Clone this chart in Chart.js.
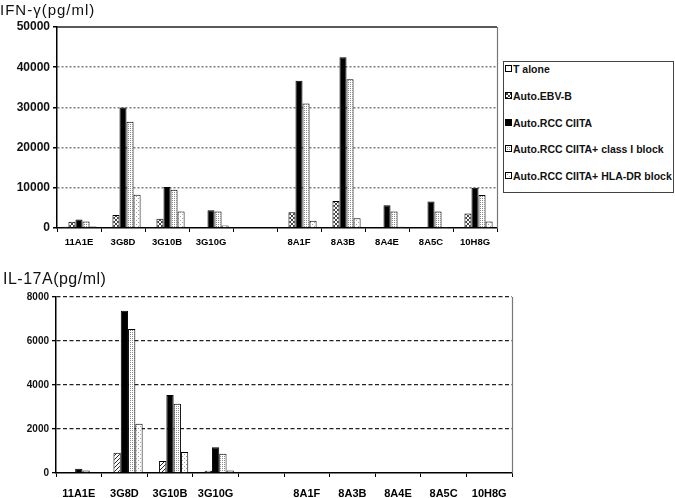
<!DOCTYPE html>
<html>
<head>
<meta charset="utf-8">
<script src="https://cdn.jsdelivr.net/npm/chart.js@4.4.0/dist/chart.umd.min.js"></script>
<style>
html,body{margin:0;padding:0;background:#fff;}
#wrap{position:relative;width:675px;height:498px;overflow:hidden;font-family:"Liberation Sans",Arial,sans-serif;color:#111;}
#c1{position:absolute;left:0;top:0;}
#c2{position:absolute;left:0;top:250px;}
.title{position:absolute;white-space:nowrap;}
#t1{left:0;top:2px;font-size:15px;line-height:15px;letter-spacing:1px;}
#t2{left:3px;top:271px;font-size:16px;line-height:16px;letter-spacing:0.5px;}
#legend{position:absolute;left:503px;top:61px;width:171px;height:132px;border:1px solid #444;box-sizing:border-box;background:#fff;}
.li{position:absolute;left:1px;height:10px;line-height:10px;font-weight:bold;font-size:10.5px;white-space:nowrap;}
.li canvas{position:absolute;left:0;top:1px;}
.li span{position:absolute;left:8px;top:0;}
</style>
</head>
<body>
<div id="wrap">
  <canvas id="c1" width="675" height="250"></canvas>
  <canvas id="c2" width="675" height="248"></canvas>
  <div class="title" id="t1">IFN-γ(pg/ml)</div>
  <div class="title" id="t2">IL-17A(pg/ml)</div>
  <div id="legend"></div>
</div>
<script>
// ---- data ----
const categories = ['11A1E', '3G8D', '3G10B', '3G10G', '', '8A1F', '8A3B', '8A4E', '8A5C', '10H8G'];
const seriesNames = ['T alone', 'Auto.EBV-B', 'Auto.RCC CIITA', 'Auto.RCC CIITA+ class I block', 'Auto.RCC CIITA+ HLA-DR block'];

const ifnTAlone = [300, 0, 0, 0, null, 0, 0, 0, 0, 0];
const ifnEBV    = [1550, 3250, 2300, 0, null, 3900, 6700, 0, 200, 3600];
const ifnRCC    = [2100, 30000, 10200, 4400, null, 36600, 42500, 5650, 6600, 10000];
const ifnClassI = [1600, 26400, 9500, 4100, null, 31000, 37000, 4100, 4100, 8200];
const ifnHLA    = [350, 8300, 4100, 650, null, 1800, 2400, 300, 250, 1600];

const ilTAlone  = [0, 0, 0, 0, null, 0, 0, 0, 0, 0];
const ilEBV     = [50, 920, 540, 100, null, 0, 0, 0, 0, 0];
const ilRCC     = [190, 7380, 3540, 1170, null, 0, 0, 0, 0, 0];
const ilClassI  = [110, 6550, 3150, 880, null, 0, 0, 0, 0, 0];
const ilHLA     = [0, 2240, 950, 110, null, 0, 0, 0, 0, 0];

const ifnTicks = [0, 10000, 20000, 30000, 40000, 50000];
const ilTicks  = [0, 2000, 4000, 6000, 8000];

// ---- patterns ----
function makePattern(size, color, pts) {
  const c = document.createElement('canvas');
  c.width = size; c.height = size;
  const x = c.getContext('2d');
  x.fillStyle = '#fff'; x.fillRect(0, 0, size, size);
  x.fillStyle = color;
  pts.forEach(p => x.fillRect(p[0], p[1], 1, 1));
  return x.createPattern(c, 'repeat');
}
const patCross = makePattern(4, '#444', [[0,0],[1,1],[2,2],[3,3],[3,0],[2,1],[1,2],[0,3]]);
const patDiag  = makePattern(4, '#222', [[0,3],[1,2],[2,1],[3,0]]);
const patDots  = makePattern(2, '#8a8a8a', [[0,0]]);
const patLight = makePattern(4, '#a0a0a0', [[0,0],[2,2]]);

const FAM = '"Liberation Sans", Arial, sans-serif';

function datasets(vals, ebvPat) {
  const fills = ['#ffffff', ebvPat, '#000000', patDots, patLight];
  return vals.map((v, i) => ({
    label: seriesNames[i],
    data: v,
    backgroundColor: fills[i],
    borderColor: '#000',
    borderWidth: 1,
    borderSkipped: 'start',
    categoryPercentage: 0.8,
    barPercentage: 1.0
  }));
}

const framePlugin = {
  id: 'frame',
  afterDatasetsDraw(chart, args, opts) {
    const {ctx, chartArea: a} = chart;
    ctx.save();
    ctx.setLineDash([]);
    ctx.strokeStyle = opts.rightColor || '#777';
    ctx.lineWidth = 1.2;
    ctx.beginPath();
    ctx.moveTo(a.right + 0.5, a.top);
    ctx.lineTo(a.right + 0.5, a.bottom);
    ctx.stroke();
    if (opts.top) {
      ctx.strokeStyle = '#222';
      ctx.lineWidth = 1.5;
      ctx.beginPath();
      ctx.moveTo(a.left, a.top);
      ctx.lineTo(a.right, a.top);
      ctx.stroke();
    }
    ctx.restore();
  }
};

function makeChart(id, vals, ebvPat, ticksArr, cfg) {
  const maxV = ticksArr[ticksArr.length - 1];
  const step = ticksArr[1] - ticksArr[0];
  return new Chart(document.getElementById(id), {
    type: 'bar',
    data: { labels: categories, datasets: datasets(vals, ebvPat) },
    options: {
      responsive: false,
      animation: false,
      layout: { padding: cfg.padding },
      plugins: { legend: { display: false }, tooltip: { enabled: false }, frame: cfg.frame },
      scales: {
        x: {
          grid: { display: true, drawOnChartArea: false, drawTicks: true, tickLength: 4, offset: true, color: '#000', tickColor: '#000', lineWidth: 1 },
          border: { color: '#000', width: 1.5 },
          ticks: { font: { family: FAM, weight: 'bold', size: cfg.xFont }, color: '#000', padding: cfg.xPad, maxRotation: 0, autoSkip: false },
          afterFit(s) { s.height = cfg.xHeight; }
        },
        y: {
          min: 0, max: maxV,
          afterBuildTicks(s) { s.ticks = ticksArr.map(v => ({ value: v })); },
          ticks: { stepSize: step, callback: v => String(v), font: { family: FAM, weight: 'bold', size: cfg.yFont }, color: '#111', padding: 3 },
          grid: {
            color: c => (c.tick && (c.tick.value === 0 || (cfg.hideTop && c.tick.value === maxV))) ? 'rgba(0,0,0,0)' : cfg.gridColor,
            tickColor: '#000', tickLength: 4, lineWidth: cfg.gridWidth, tickBorderDash: []
          },
          border: { color: '#000', width: 1.5, dash: cfg.dash },
          afterFit(s) { s.width = cfg.yWidth; }
        }
      }
    },
    plugins: [framePlugin]
  });
}

makeChart('c1', [ifnTAlone, ifnEBV, ifnRCC, ifnClassI, ifnHLA], patCross, ifnTicks, {
  padding: { top: 27, right: 178, left: 0, bottom: 0 },
  frame: { top: true, rightColor: '#777' },
  xFont: 9.5, xPad: 5, xHeight: 22, yFont: 12, yWidth: 57,
  gridColor: '#808080', gridWidth: 1.5, dash: [2, 2], hideTop: true
});

makeChart('c2', [ilTAlone, ilEBV, ilRCC, ilClassI, ilHLA], patDiag, ilTicks, {
  padding: { top: 47, right: 163, left: 0, bottom: 0 },
  frame: { top: false, rightColor: '#777' },
  xFont: 11, xPad: 10, xHeight: 25, yFont: 10, yWidth: 56,
  gridColor: '#222', gridWidth: 1.3, dash: [4, 2.5], hideTop: false
});

// ---- legend ----
const legend = document.getElementById('legend');
const legFills = ['#ffffff', patCross, '#000000', patDots, patLight];
const legCenters = [7, 34, 61, 87, 114];
seriesNames.forEach((name, i) => {
  const d = document.createElement('div');
  d.className = 'li';
  d.style.top = (legCenters[i] - 5) + 'px';
  const cv = document.createElement('canvas');
  cv.width = 7; cv.height = 7;
  const x = cv.getContext('2d');
  x.fillStyle = legFills[i]; x.fillRect(0, 0, 7, 7);
  x.strokeStyle = '#000'; x.lineWidth = 1; x.strokeRect(0.5, 0.5, 6, 6);
  const sp = document.createElement('span');
  sp.textContent = name;
  d.appendChild(cv); d.appendChild(sp);
  legend.appendChild(d);
});
</script>
</body>
</html>
